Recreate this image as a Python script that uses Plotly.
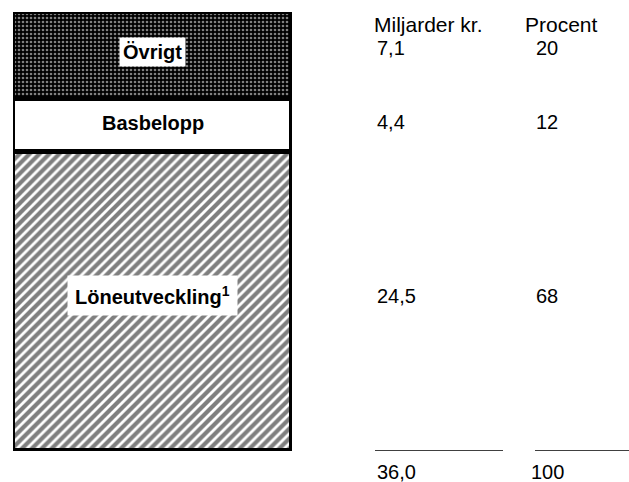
import plotly.graph_objects as go

# Components of the cost increase (billion kronor and share in percent)
components = ["Löneutveckling<sup>1</sup>", "Basbelopp", "Övrigt"]
miljarder = [24.5, 4.4, 7.1]
procent = [68, 12, 20]
miljarder_labels = ["24,5", "4,4", "7,1"]
total_miljarder = "36,0"
total_procent = "100"
header_miljarder = "Miljarder kr."
header_procent = "Procent"

W, H = 629, 482
FONT = "Liberation Sans, Arial, Helvetica, sans-serif"

patterns = [
    dict(shape="/", fgcolor="black", bgcolor="white", size=7, solidity=0.6),
    None,
    dict(shape=".", fgcolor="white", bgcolor="black", size=4, solidity=0.35),
]
fills = ["white", "white", "black"]

fig = go.Figure()
for name, val, pat, fc in zip(components, miljarder, patterns, fills):
    marker = dict(color=fc, line=dict(color="black", width=5))
    if pat is not None:
        marker["pattern"] = pat
    fig.add_trace(go.Bar(x=["stapel"], y=[val], name=name, marker=marker,
                         width=1, showlegend=False, hoverinfo="skip"))

annotations = []
base = 0.0
label_shift = [6, 2, 3]
row_shift = [6, 3, 7]
label_pad = [7, 1, 3]
for name, val, lab, pct, ls, rs, pad in zip(components, miljarder, miljarder_labels,
                                            procent, label_shift, row_shift, label_pad):
    mid = base + val / 2
    base += val
    annotations.append(dict(
        x="stapel", y=mid, xref="x", yref="y", text=f"<b>{name}</b>",
        showarrow=False, yshift=ls, font=dict(family=FONT, size=20, color="black"),
        bgcolor="white", borderpad=pad,
    ))
    annotations.append(dict(
        x=375 / W, y=mid, xref="paper", yref="y", text=lab, xanchor="left",
        showarrow=False, yshift=rs, font=dict(family=FONT, size=20, color="black"),
    ))
    annotations.append(dict(
        x=547 / W, y=mid, xref="paper", yref="y", text=str(pct), xanchor="center",
        showarrow=False, yshift=rs, font=dict(family=FONT, size=20, color="black"),
    ))

# column headers and totals
annotations += [
    dict(x=372 / W, y=36.0, xref="paper", yref="y", text=header_miljarder,
         xanchor="left", yanchor="middle", showarrow=False, yshift=-12,
         font=dict(family=FONT, size=21, color="black")),
    dict(x=523 / W, y=36.0, xref="paper", yref="y", text=header_procent,
         xanchor="left", yanchor="middle", showarrow=False, yshift=-12,
         font=dict(family=FONT, size=21, color="black")),
    dict(x=375 / W, y=0, xref="paper", yref="y", text=total_miljarder,
         xanchor="left", yanchor="middle", showarrow=False, yshift=-21,
         font=dict(family=FONT, size=20, color="black")),
    dict(x=547 / W, y=0, xref="paper", yref="y", text=total_procent,
         xanchor="center", yanchor="middle", showarrow=False, yshift=-21,
         font=dict(family=FONT, size=20, color="black")),
]

# sum rules above the totals
shapes = [
    dict(type="line", xref="paper", yref="y", x0=375 / W, x1=503 / W, y0=0, y1=0,
         line=dict(color="black", width=1.5)),
    dict(type="line", xref="paper", yref="y", x0=535 / W, x1=1.0, y0=0, y1=0,
         line=dict(color="black", width=1.5)),
]

fig.update_layout(
    width=W, height=H,
    margin=dict(l=0, r=0, t=12, b=31),
    barmode="stack", bargap=0,
    paper_bgcolor="white", plot_bgcolor="white",
    xaxis=dict(domain=[13 / W, 292 / W], range=[-0.5, 0.5], visible=False),
    yaxis=dict(range=[0, 36.0], visible=False),
    annotations=annotations, shapes=shapes,
)

fig.write_html("out.html")
